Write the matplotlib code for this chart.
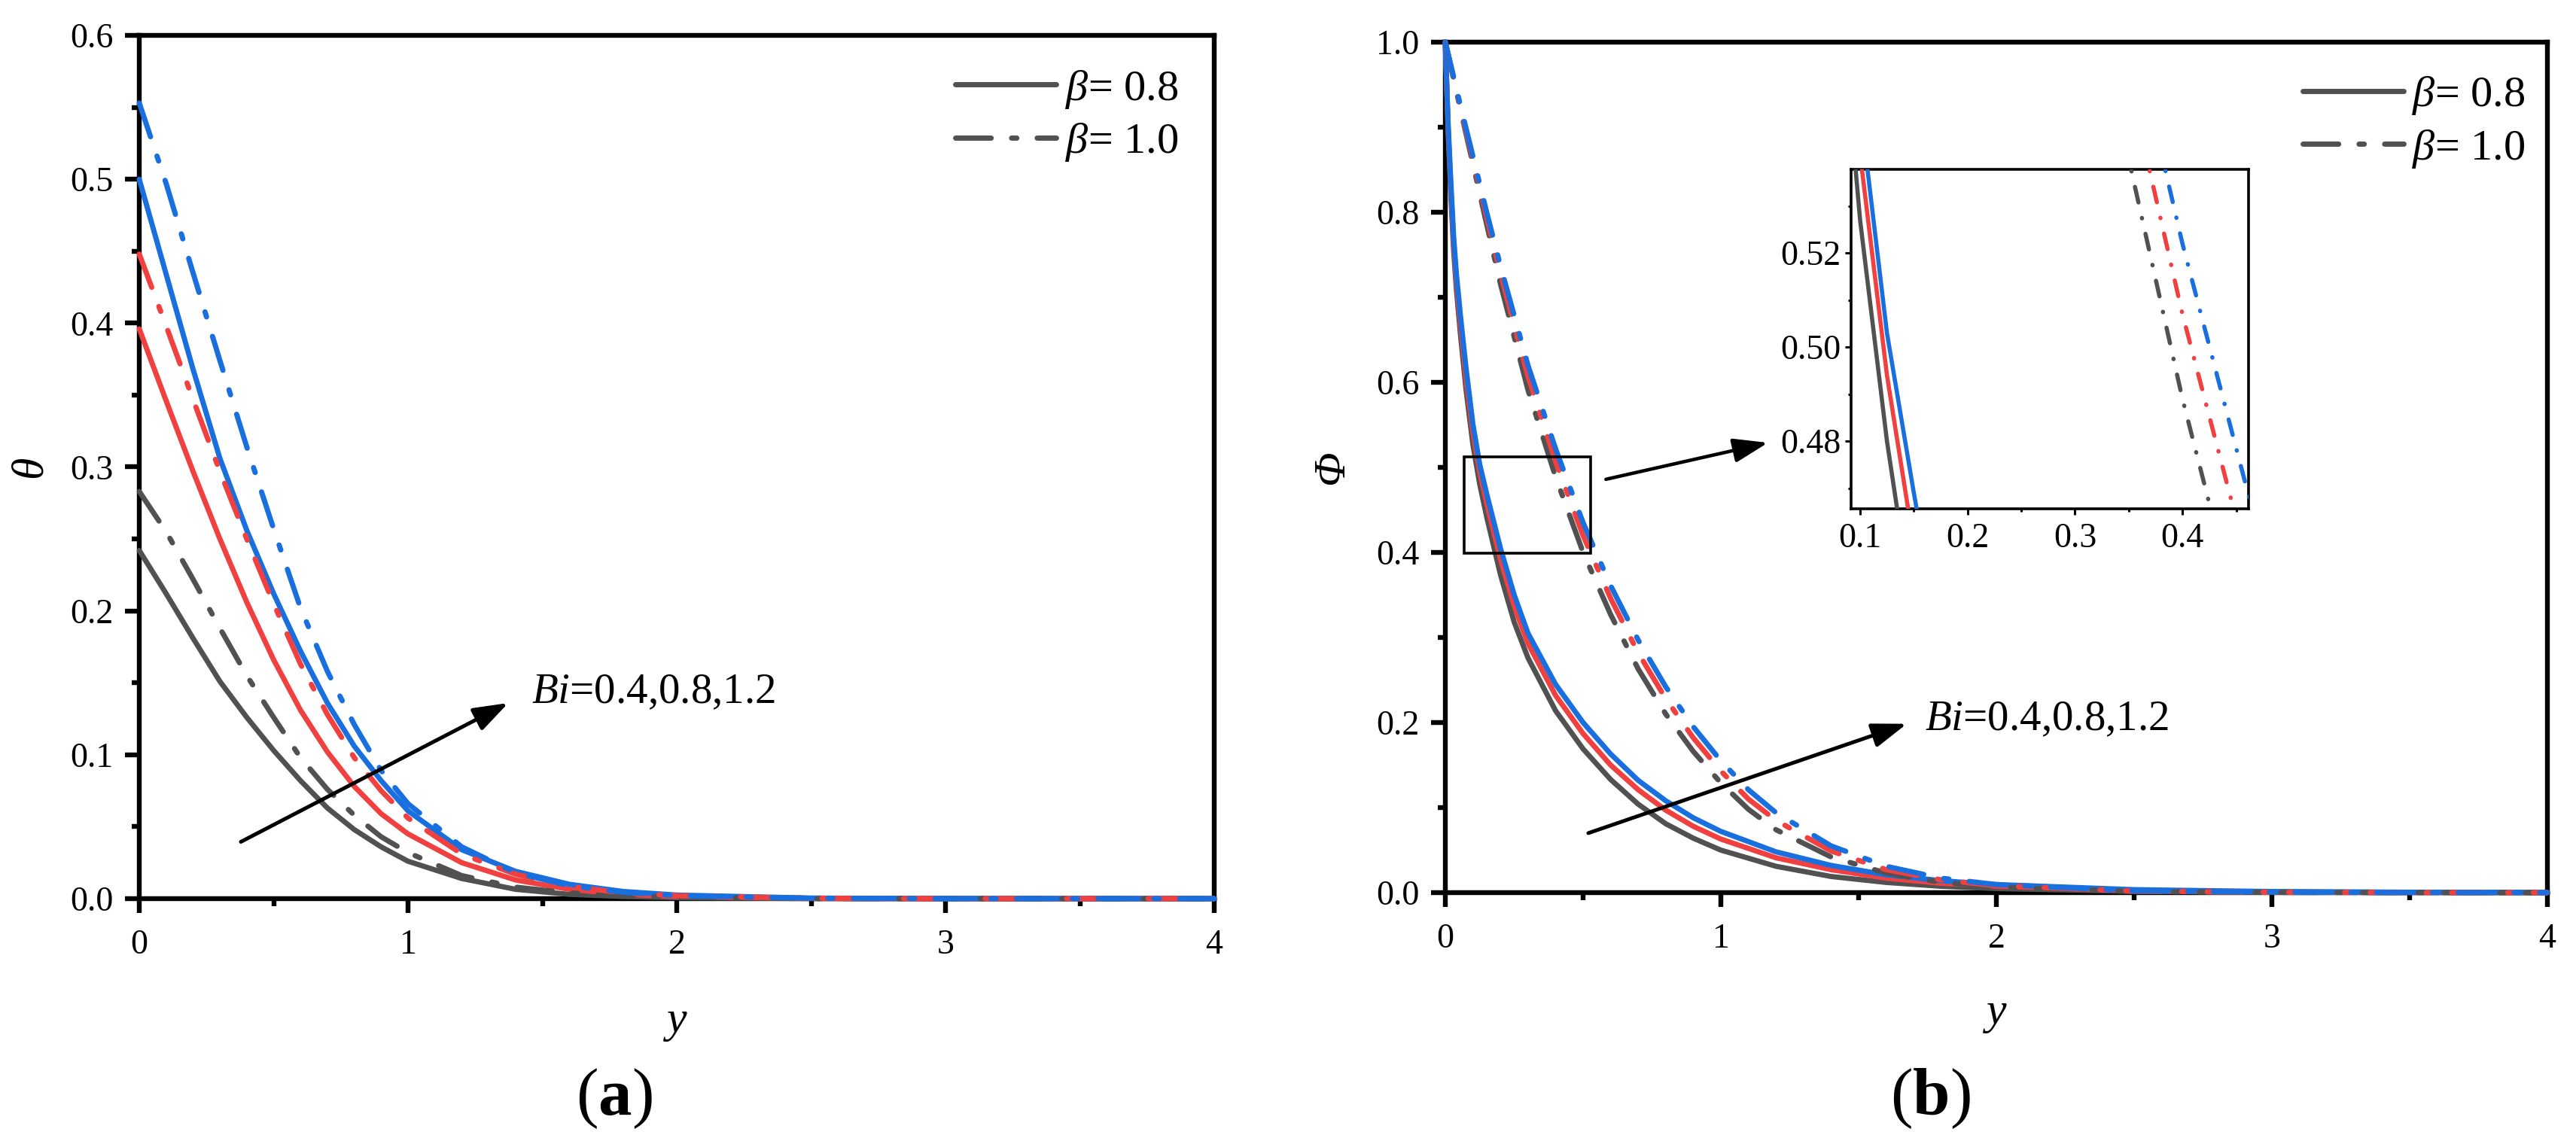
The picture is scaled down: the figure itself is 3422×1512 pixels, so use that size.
import matplotlib
matplotlib.use('Agg')
import matplotlib.pyplot as plt
from matplotlib.lines import Line2D
from matplotlib.patches import Rectangle
from matplotlib.ticker import MultipleLocator, FormatStrFormatter

plt.rcParams['font.family'] = ['Liberation Serif', 'DejaVu Serif']
plt.rcParams['mathtext.fontset'] = 'custom'
plt.rcParams['mathtext.rm'] = 'Liberation Serif'
plt.rcParams['mathtext.it'] = 'Liberation Serif:italic'
plt.rcParams['mathtext.bf'] = 'Liberation Serif:bold'

# ---- data ----
# (a) temperature theta(y); solid: beta = 0.8, dash-dot: beta = 1.0; Bi = 0.4, 0.8, 1.2
y_theta = [0, 0.1, 0.2, 0.3, 0.4, 0.5, 0.6, 0.7, 0.8, 0.9, 1.0, 1.2, 1.4, 1.6, 1.8, 2.0, 2.5, 3.0, 4.0]
theta_b08_bi04 = [0.242, 0.212, 0.181, 0.151, 0.126, 0.103, 0.082, 0.063, 0.048, 0.036, 0.026, 0.014, 0.0065, 0.003, 0.0015, 0.0007, 0.0001, 0, 0]
theta_b08_bi08 = [0.396, 0.346, 0.297, 0.250, 0.206, 0.166, 0.131, 0.102, 0.078, 0.059, 0.045, 0.025, 0.013, 0.0065, 0.003, 0.0015, 0.0002, 0, 0]
theta_b08_bi12 = [0.500, 0.434, 0.368, 0.306, 0.256, 0.212, 0.172, 0.136, 0.106, 0.082, 0.061, 0.034, 0.019, 0.010, 0.005, 0.0025, 0.0004, 0.0001, 0]
theta_b10_bi04 = [0.283, 0.255, 0.222, 0.188, 0.155, 0.126, 0.098, 0.076, 0.058, 0.043, 0.032, 0.016, 0.008, 0.004, 0.002, 0.001, 0.0001, 0, 0]
theta_b10_bi08 = [0.448, 0.398, 0.347, 0.297, 0.250, 0.205, 0.163, 0.128, 0.098, 0.075, 0.056, 0.031, 0.017, 0.0085, 0.004, 0.002, 0.0003, 0, 0]
theta_b10_bi12 = [0.553, 0.497, 0.435, 0.374, 0.314, 0.257, 0.202, 0.158, 0.121, 0.089, 0.066, 0.036, 0.018, 0.009, 0.0045, 0.002, 0.0003, 0, 0]

# (b) concentration Phi(y)
y_phi_solid = [0, 0.01, 0.02, 0.03, 0.04, 0.055, 0.075, 0.1, 0.125, 0.15, 0.2, 0.25, 0.3, 0.4, 0.5,
               0.6, 0.7, 0.8, 0.9, 1.0, 1.2, 1.4, 1.6, 1.8, 2.0, 2.5, 3.0, 3.5, 4.0]
phi_b08_bi04 = [1.0, 0.895, 0.82, 0.756, 0.71, 0.656, 0.592, 0.527, 0.48, 0.442, 0.374, 0.318, 0.276, 0.214, 0.169,
                0.133, 0.104, 0.081, 0.064, 0.050, 0.031, 0.019, 0.012, 0.0075, 0.0048, 0.0015, 0.0005, 0.0002, 0.0]
phi_b08_bi08 = [1.0, 0.90, 0.828, 0.765, 0.72, 0.668, 0.605, 0.541, 0.494, 0.458, 0.392, 0.337, 0.293, 0.232, 0.187,
                0.150, 0.121, 0.097, 0.078, 0.063, 0.041, 0.027, 0.017, 0.011, 0.0075, 0.0025, 0.0009, 0.0003, 0.0001]
phi_b08_bi12 = [1.0, 0.905, 0.835, 0.772, 0.728, 0.678, 0.617, 0.551, 0.503, 0.469, 0.405, 0.350, 0.305, 0.245, 0.200,
                0.163, 0.132, 0.108, 0.088, 0.072, 0.048, 0.032, 0.021, 0.014, 0.0095, 0.0035, 0.0013, 0.0005, 0.0002]
y_phi_dash = [0, 0.05, 0.1, 0.15, 0.2, 0.3, 0.4, 0.5, 0.6, 0.7, 0.8, 0.9, 1.0, 1.1, 1.2, 1.4, 1.6, 1.8, 2.0, 2.5, 3.0, 3.5, 4.0]
phi_b10_bi04 = [1.0, 0.928, 0.857, 0.786, 0.716, 0.591, 0.489, 0.400, 0.327, 0.263, 0.210, 0.166, 0.129, 0.098, 0.074,
                0.042, 0.023, 0.012, 0.0065, 0.0014, 0.0003, 0.0001, 0]
phi_b10_bi08 = [1.0, 0.930, 0.862, 0.794, 0.728, 0.607, 0.507, 0.420, 0.346, 0.282, 0.228, 0.182, 0.143, 0.110, 0.085,
                0.049, 0.027, 0.015, 0.008, 0.0018, 0.0004, 0.0001, 0]
phi_b10_bi12 = [1.0, 0.932, 0.866, 0.800, 0.737, 0.620, 0.522, 0.435, 0.361, 0.297, 0.242, 0.195, 0.155, 0.121, 0.094,
                0.055, 0.031, 0.017, 0.0095, 0.0022, 0.0005, 0.0001, 0]

legend_labels = [r'$\beta$= 0.8', r'$\beta$= 1.0']
bi_label = r'$Bi$=0.4,0.8,1.2'

GRAY, RED, BLUE = '#515151', '#F14040', '#1A6FDF'
COLORS = [GRAY, RED, BLUE]
LW = 5.0
SPINE_LW = 4.6
DASHDOT = (0, (6.8, 3.9, 1.0, 3.9))


def plot_curves(ax, xs_solid, solid, xs_dash, dash, lw=LW, dashdot=DASHDOT, clip=False):
    for ys, c in zip(solid, COLORS):
        ax.plot(xs_solid, ys, color=c, lw=lw, ls='-', solid_capstyle='round',
                solid_joinstyle='round', zorder=3, clip_on=clip)
    for ys, c in zip(dash, COLORS):
        ax.plot(xs_dash, ys, color=c, lw=lw, ls=dashdot, dash_capstyle='round',
                dash_joinstyle='round', zorder=3, clip_on=clip)


def style_main(ax, ymax, ystep, yminor):
    ax.set_xlim(0, 4)
    ax.set_ylim(0, ymax)
    ax.xaxis.set_major_locator(MultipleLocator(1))
    ax.xaxis.set_minor_locator(MultipleLocator(0.5))
    ax.yaxis.set_major_locator(MultipleLocator(ystep))
    ax.yaxis.set_minor_locator(MultipleLocator(yminor))
    ax.yaxis.set_major_formatter(FormatStrFormatter('%.1f'))
    ax.tick_params(which='both', direction='out', top=False, right=False, width=SPINE_LW, labelsize=33)
    ax.tick_params(which='major', length=14)
    ax.tick_params(which='minor', length=7)
    ax.tick_params(axis='x', pad=15)
    ax.tick_params(axis='y', pad=11)
    for s in ax.spines.values():
        s.set_linewidth(SPINE_LW)
    ax.set_xlabel('y', fontsize=43, fontstyle='italic', va='center')
    ax.xaxis.set_label_coords(0.5, -0.142)


def add_legend(ax, anchor):
    handles = [
        Line2D([], [], color=GRAY, lw=LW, ls='-', solid_capstyle='round'),
        Line2D([], [], color=GRAY, lw=LW, ls=DASHDOT, dash_capstyle='round'),
    ]
    ax.legend(handles, legend_labels, loc='upper right', bbox_to_anchor=anchor, frameon=False,
              fontsize=42, handlelength=2.3, handletextpad=0.2, labelspacing=0.25,
              borderaxespad=0, borderpad=0)


def bi_arrow(ax, start, tip, text_xy):
    ax.annotate('', xy=tip, xytext=start,
                arrowprops=dict(arrowstyle='-|>,head_length=1.0,head_width=0.35', mutation_scale=28,
                                lw=3.6, color='black', shrinkA=0, shrinkB=0), zorder=6)
    ax.text(text_xy[0], text_xy[1], bi_label, fontsize=41, ha='left', va='baseline', zorder=6)


fig = plt.figure(figsize=(34.23, 15.12), dpi=100)

# ---- (a) ----
ax1 = fig.add_axes([0.05405, 0.21032, 0.41718, 0.75860])
plot_curves(ax1, y_theta, [theta_b08_bi04, theta_b08_bi08, theta_b08_bi12],
            y_theta, [theta_b10_bi04, theta_b10_bi08, theta_b10_bi12])
style_main(ax1, 0.6, 0.1, 0.05)
ax1.set_ylabel('θ', fontsize=43, fontstyle='italic', va='center')
ax1.yaxis.set_label_coords(-0.1008, 0.5)
add_legend(ax1, (0.9664, 0.962))
bi_arrow(ax1, (0.378, 0.0395), (1.373, 0.136), (1.46, 0.136))

# ---- (b) ----
ax2 = fig.add_axes([0.56091, 0.21561, 0.42770, 0.74735])
plot_curves(ax2, y_phi_solid, [phi_b08_bi04, phi_b08_bi08, phi_b08_bi12],
            y_phi_dash, [phi_b10_bi04, phi_b10_bi08, phi_b10_bi12])
style_main(ax2, 1.0, 0.2, 0.1)
ax2.set_ylabel('Φ', fontsize=43, fontstyle='italic', va='center')
ax2.yaxis.set_label_coords(-0.1025, 0.5)
add_legend(ax2, (0.980, 0.962))
bi_arrow(ax2, (0.519, 0.070), (1.675, 0.1985), (1.740, 0.191))

# zoom box and pointer to the inset
ax2.add_patch(Rectangle((0.068, 0.399), 0.459, 0.113, fill=False, lw=2.6, ec='black', zorder=5))
ax2.annotate('', xy=(1.171, 0.529), xytext=(0.583, 0.486),
             arrowprops=dict(arrowstyle='-|>,head_length=1.0,head_width=0.35', mutation_scale=28,
                             lw=3.3, color='black', shrinkA=0, shrinkB=0), zorder=6)

# inset
axin = fig.add_axes([0.71837, 0.55291, 0.15425, 0.29828])
plot_curves(axin, y_phi_solid, [phi_b08_bi04, phi_b08_bi08, phi_b08_bi12],
            y_phi_dash, [phi_b10_bi04, phi_b10_bi08, phi_b10_bi12],
            lw=4.0, dashdot=(0, (3.8, 3.8, 0.1, 3.8)), clip=True)
axin.set_xlim(0.0916, 0.4615)
axin.set_ylim(0.4656, 0.5378)
axin.xaxis.set_major_locator(MultipleLocator(0.1))
axin.xaxis.set_minor_locator(MultipleLocator(0.05))
axin.yaxis.set_major_locator(MultipleLocator(0.02))
axin.yaxis.set_minor_locator(MultipleLocator(0.01))
axin.xaxis.set_major_formatter(FormatStrFormatter('%.1f'))
axin.yaxis.set_major_formatter(FormatStrFormatter('%.2f'))
axin.tick_params(which='both', direction='out', top=False, right=False, width=2.2, labelsize=33)
axin.tick_params(which='major', length=6)
axin.tick_params(which='minor', length=3)
axin.tick_params(axis='x', pad=7)
axin.tick_params(axis='y', pad=4)
for s in axin.spines.values():
    s.set_linewidth(2.6)

fig.text(0.2384, 0.035, r'($\mathbf{a}$)', fontsize=64, ha='center', va='center')
fig.text(0.749, 0.035, r'($\mathbf{b}$)', fontsize=64, ha='center', va='center')

fig.savefig('out.png', dpi=100)
